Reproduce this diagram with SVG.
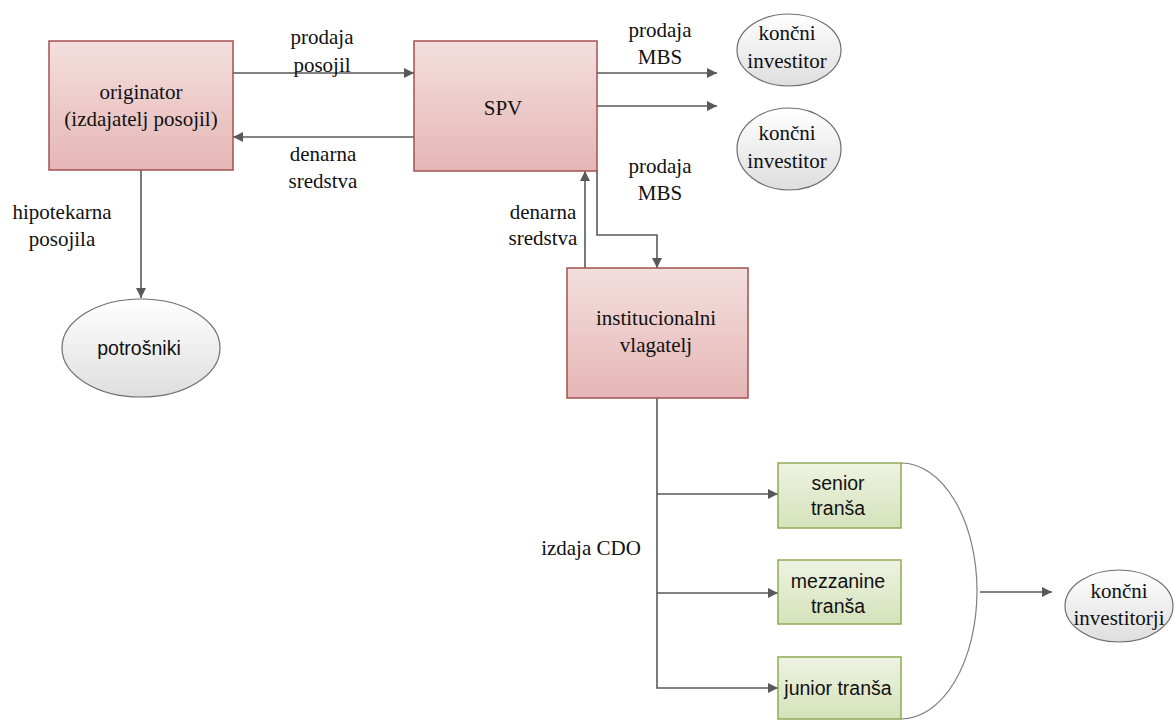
<svg xmlns="http://www.w3.org/2000/svg" width="1175" height="722" viewBox="0 0 1175 722">
<defs>
<linearGradient id="gPink" x1="0" y1="0" x2="0" y2="1"><stop offset="0" stop-color="#f3dfde"/><stop offset="1" stop-color="#e5b6b5"/></linearGradient>
<linearGradient id="gGreen" x1="0" y1="0" x2="0" y2="1"><stop offset="0" stop-color="#eef3e2"/><stop offset="1" stop-color="#d5e2ba"/></linearGradient>
<linearGradient id="gGray" x1="0" y1="0" x2="0" y2="1"><stop offset="0" stop-color="#ffffff"/><stop offset="1" stop-color="#dedede"/></linearGradient>
<marker id="arr" viewBox="0 0 10 10" refX="10" refY="5" markerWidth="10" markerHeight="10" markerUnits="userSpaceOnUse" orient="auto"><path d="M0,0 L10,5 L0,10 z" fill="#595959"/></marker>
</defs>
<style>
.pink{fill:url(#gPink);stroke:#a3514f;stroke-width:1.5}
.green{fill:url(#gGreen);stroke:#8eab55;stroke-width:1.5}
.ell{fill:url(#gGray);stroke:#6e6e6e;stroke-width:1.2}
.con{fill:none;stroke:#595959;stroke-width:1.6}
.ser{font-family:'Liberation Serif','DejaVu Serif',serif;font-size:21px;fill:#111;text-anchor:middle}
.sans{font-family:'Liberation Sans',Arial,sans-serif;font-size:19.5px;fill:#111;text-anchor:middle}
</style>
<rect width="1175" height="722" fill="#ffffff"/>
<g id="connectors">
<line class="con" x1="233" y1="73" x2="414" y2="73" marker-end="url(#arr)"/>
<line class="con" x1="414" y1="137" x2="233" y2="137" marker-end="url(#arr)"/>
<line class="con" x1="597" y1="73" x2="717" y2="73" marker-end="url(#arr)"/>
<line class="con" x1="597" y1="106" x2="717" y2="106" marker-end="url(#arr)"/>
<line class="con" x1="141" y1="170" x2="141" y2="298" marker-end="url(#arr)"/>
<line class="con" x1="585" y1="268" x2="585" y2="171" marker-end="url(#arr)"/>
<polyline class="con" points="597,171 597,235 657,235 657,268" marker-end="url(#arr)"/>
<polyline class="con" points="657,398 657,688 778,688" marker-end="url(#arr)"/>
<line class="con" x1="657" y1="494" x2="778" y2="494" marker-end="url(#arr)"/>
<line class="con" x1="657" y1="593" x2="778" y2="593" marker-end="url(#arr)"/>
<path d="M901,463 A76 128 0 0 1 901,719" fill="none" stroke="#7f7f7f" stroke-width="1.2"/>
<line class="con" x1="980" y1="592" x2="1052" y2="592" marker-end="url(#arr)"/>
</g>
<g id="labels">
<text class="ser" x="322" y="44">prodaja</text>
<text class="ser" x="322" y="72">posojil</text>
<text class="ser" x="323" y="161">denarna</text>
<text class="ser" x="323" y="188">sredstva</text>
<text class="ser" x="660" y="37">prodaja</text>
<text class="ser" x="660" y="64">MBS</text>
<text class="ser" x="660" y="173">prodaja</text>
<text class="ser" x="660" y="200">MBS</text>
<text class="ser" x="543" y="219">denarna</text>
<text class="ser" x="543" y="245">sredstva</text>
<text class="ser" x="62" y="219">hipotekarna</text>
<text class="ser" x="62" y="246">posojila</text>
<text class="ser" x="591" y="555">izdaja CDO</text>
</g>
<g id="originator">
<rect class="pink" x="49" y="41" width="184" height="129"/>
<text class="ser" x="141" y="99">originator</text>
<text class="ser" x="141" y="126">(izdajatelj posojil)</text>
</g>
<g id="spv">
<rect class="pink" x="414" y="41" width="183" height="130"/>
<text class="ser" x="503" y="115">SPV</text>
</g>
<g id="investor1">
<ellipse class="ell" cx="789" cy="50" rx="52" ry="36"/>
<text class="ser" x="787" y="40">končni</text>
<text class="ser" x="787" y="68">investitor</text>
</g>
<g id="investor2">
<ellipse class="ell" cx="789" cy="149" rx="52" ry="41"/>
<text class="ser" x="787" y="140">končni</text>
<text class="ser" x="787" y="168">investitor</text>
</g>
<g id="potrosniki">
<ellipse class="ell" cx="141" cy="348" rx="79" ry="49"/>
<text class="sans" x="139" y="355">potrošniki</text>
</g>
<g id="institucionalni">
<rect class="pink" x="567" y="268" width="181" height="130"/>
<text class="ser" x="656" y="325">institucionalni</text>
<text class="ser" x="656" y="352">vlagatelj</text>
</g>
<g id="senior">
<rect class="green" x="778" y="463" width="123" height="65"/>
<text class="sans" x="838" y="490">senior</text>
<text class="sans" x="838" y="515">tranša</text>
</g>
<g id="mezzanine">
<rect class="green" x="778" y="560" width="123" height="64"/>
<text class="sans" x="838" y="588">mezzanine</text>
<text class="sans" x="838" y="613">tranša</text>
</g>
<g id="junior">
<rect class="green" x="778" y="657" width="123" height="62"/>
<text class="sans" x="838" y="695">junior tranša</text>
</g>
<g id="investitorji">
<ellipse class="ell" cx="1119" cy="606" rx="54" ry="36"/>
<text class="ser" x="1119" y="598">končni</text>
<text class="ser" x="1119" y="625">investitorji</text>
</g>
</svg>
